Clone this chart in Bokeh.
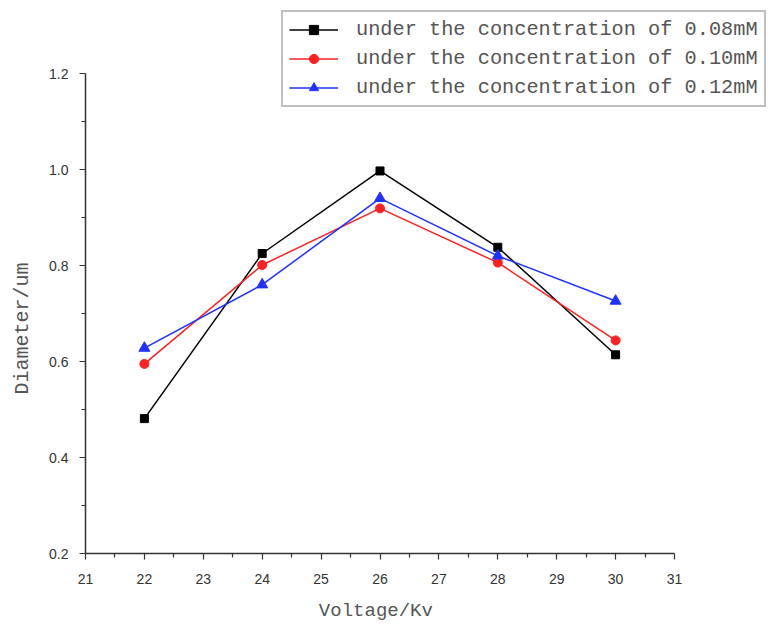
from bokeh.plotting import figure
from bokeh.models import FixedTicker, Legend, LegendItem, Range1d, CustomJSTickFormatter, Label
from bokeh.embed import file_html
from bokeh.resources import INLINE

voltage = [22, 24, 26, 28, 30]
d_008 = [0.481, 0.825, 0.997, 0.838, 0.614]
d_010 = [0.595, 0.801, 0.919, 0.806, 0.644]
d_012 = [0.628, 0.760, 0.940, 0.820, 0.726]
labels = ["under the concentration of 0.08mM",
          "under the concentration of 0.10mM",
          "under the concentration of 0.12mM"]
x_ticks = list(range(21, 32))
y_ticks = [0.2, 0.4, 0.6, 0.8, 1.0, 1.2]
x_minor = [21.5, 22.5, 23.5, 24.5, 25.5, 26.5, 27.5, 28.5, 29.5, 30.5]
y_minor = [0.3, 0.5, 0.7, 0.9, 1.1]
x_title = "Voltage/Kv"
y_title = "Diameter/um"

# ---- layout (pixels) ----
W, H = 778, 627
ax_left, ax_right = 85, 674      # pixel position of x=21 and x=31
ax_top, ax_bottom = 73, 553      # pixel position of y=1.2 and y=0.2
x0, x1 = x_ticks[0], x_ticks[-1]
y0, y1 = y_ticks[0], y_ticks[-1]
sx = (ax_right - ax_left) / (x1 - x0)
sy = (ax_bottom - ax_top) / (y1 - y0)
xr = Range1d(x0 - ax_left / sx, x1 + (W - ax_right) / sx)
yr = Range1d(y0 - (H - ax_bottom) / sy, y1 + ax_top / sy)

p = figure(width=W, height=H, output_backend="svg", toolbar_location=None,
           x_range=xr, y_range=yr,
           min_border_left=0, min_border_right=0, min_border_top=0, min_border_bottom=0)
p.outline_line_color = None
p.xgrid.visible = False
p.ygrid.visible = False
p.background_fill_color = "white"

p.xaxis.ticker = FixedTicker(ticks=x_ticks, minor_ticks=x_minor)
p.yaxis.ticker = FixedTicker(ticks=y_ticks, minor_ticks=y_minor)
p.xaxis.bounds = (x0, x1)
p.yaxis.bounds = (y0, y1)
p.xaxis.fixed_location = y0
p.yaxis.fixed_location = x0
for ax in (p.xaxis, p.yaxis):
    ax.axis_line_color = "#333333"
    ax.axis_line_width = 1.5
    ax.major_tick_line_color = "#333333"
    ax.minor_tick_line_color = "#333333"
    ax.major_tick_line_width = 1.2
    ax.minor_tick_line_width = 1.2
    ax.major_tick_out = 6
    ax.major_tick_in = 0
    ax.minor_tick_out = 4
    ax.minor_tick_in = 0
    ax.major_label_text_font = "Liberation Sans"
    ax.major_label_text_font_size = "14px"
    ax.major_label_text_color = "#333333"
p.yaxis.formatter = CustomJSTickFormatter(code="return tick.toFixed(1);")
p.xaxis.major_label_standoff = 14
p.yaxis.major_label_standoff = 11

# axis titles
p.add_layout(Label(x=(x0 + x1) / 2 - 0.07, y=y0 - 57 / sy, text=x_title,
                   text_align="center", text_baseline="middle",
                   text_font="Liberation Mono", text_font_size="19px", text_color="#555555"))
p.add_layout(Label(x=x0 - 63 / sx, y=y0 + 225 / sy, text=y_title, angle=90, angle_units="deg",
                   text_align="center", text_baseline="middle",
                   text_font="Liberation Mono", text_font_size="20px", text_color="#555555"))

l1 = p.line(voltage, d_008, color="black", line_width=1.5)
m1 = p.scatter(voltage, d_008, marker="square", size=8, color="black")
l2 = p.line(voltage, d_010, color="#ff2020", line_width=1.5)
m2 = p.scatter(voltage, d_010, marker="circle", size=9, color="#ff2020")
l3 = p.line(voltage, d_012, color="#2030ff", line_width=1.5)
m3 = p.scatter(voltage, d_012, marker="triangle", size=11, color="#2030ff")

legend = Legend(items=[LegendItem(label=labels[0], renderers=[l1, m1]),
                       LegendItem(label=labels[1], renderers=[l2, m2]),
                       LegendItem(label=labels[2], renderers=[l3, m3])],
                location=(281, H - 107))
legend.label_text_font = "Liberation Mono"
legend.label_text_font_size = "20.3px"
legend.label_text_color = "#555555"
legend.glyph_width = 49
legend.glyph_height = 23
legend.label_height = 23
legend.spacing = 6
legend.padding = 6
legend.margin = 0
legend.label_standoff = 18
legend.border_line_color = "#808080"
legend.border_line_width = 2
legend.background_fill_alpha = 1
p.add_layout(legend, "center")

open("out.html", "w").write(file_html(p, INLINE))
